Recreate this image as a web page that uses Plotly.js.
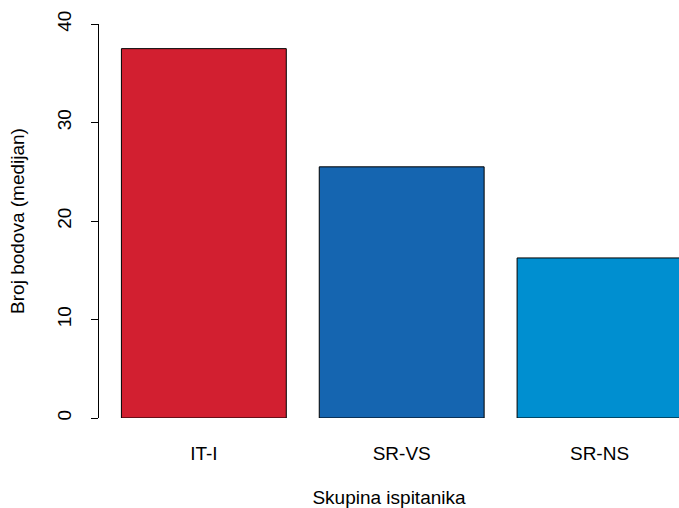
<!DOCTYPE html>
<html>
<head>
<meta charset="utf-8">
<script src="https://cdn.plot.ly/plotly-3.0.1.min.js"></script>
<style>html,body{margin:0;padding:0;background:#fff;}#chart{width:679px;height:508px;}</style>
</head>
<body>
<div id="chart"></div>
<script>
var categories = ["IT-I", "SR-VS", "SR-NS"];
var medians = [37.5, 25.5, 16.25];
var barColors = ["#D21F30", "#1565B0", "#008FD0"];
var yTicks = [0, 10, 20, 30, 40];

// R barplot positions: width 1, space 0.2
var xpos = categories.map(function(c, i){ return 0.7 + 1.2 * i; });

var font = {family: "Liberation Sans, Arial, sans-serif", size: 19, color: "#000"};

var trace = {
  type: "bar",
  x: xpos,
  y: medians,
  width: 1,
  marker: {color: barColors, line: {color: "#000", width: 1}},
  hoverinfo: "skip"
};

var layout = {
  width: 679, height: 508,
  margin: {l: 99, r: 0, t: 24, b: 90, pad: 0},
  paper_bgcolor: "#fff", plot_bgcolor: "#fff",
  showlegend: false,
  font: font,
  xaxis: {
    range: [0.064, 3.582],
    tickmode: "array", tickvals: xpos, ticktext: categories,
    showline: false, showgrid: false, zeroline: false,
    ticks: "", ticklabelstandoff: 22,
    tickfont: font,
    title: {text: "Skupina ispitanika", font: font, standoff: 32}
  },
  yaxis: {
    range: [0, 40],
    tickmode: "array", tickvals: yTicks,
    showline: true, linecolor: "#000", linewidth: 1,
    showgrid: false, zeroline: false,
    ticks: "outside", ticklen: 7, tickwidth: 1, tickcolor: "#000",
    tickangle: -90, ticklabelstandoff: 12,
    tickfont: font,
    title: {text: "Broj bodova (medijan)", font: font, standoff: 24}
  }
};

Plotly.newPlot("chart", [trace], layout, {staticPlot: true, displayModeBar: false});
</script>
</body>
</html>
